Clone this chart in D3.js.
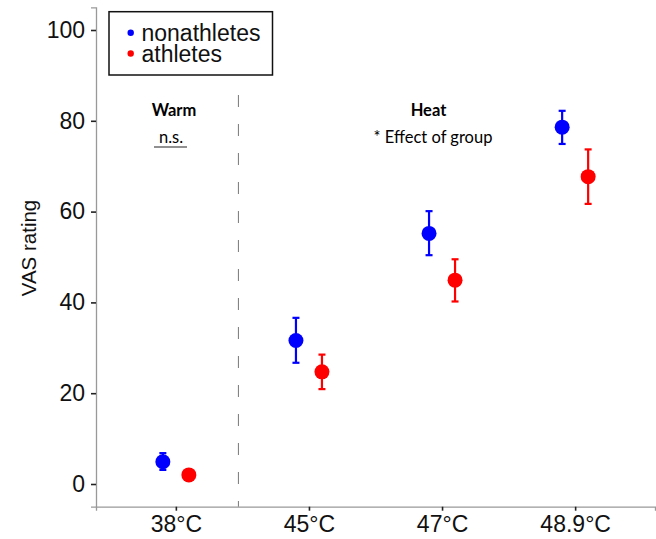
<!DOCTYPE html>
<html>
<head>
<meta charset="utf-8">
<script src="https://cdn.jsdelivr.net/npm/d3@7"></script>
<style>
  body { margin: 0; background: #fff; }
  svg { display: block; }
</style>
</head>
<body>
<svg id="chart" width="656" height="539"></svg>
<script>
// data
const temps = ['38°C', '45°C', '47°C', '48.9°C'];
const groups = ['nonathletes', 'athletes'];
const colors = ['#0000ff', '#ff0000'];
const nonMean = [4.9, 31.6, 55.2, 78.6];
const nonLow = [3.1, 26.7, 50.4, 74.9];
const nonHigh = [6.8, 36.6, 60.1, 82.2];
const athMean = [2.0, 24.7, 44.9, 67.7];
const athLow = [1.2, 20.9, 40.2, 61.7];
const athHigh = [2.8, 28.5, 49.5, 73.7];
const yTicks = [0, 20, 40, 60, 80, 100];

const svg = d3.select('#chart');

const x = d3.scalePoint()
  .domain(temps)
  .range([96, 655])
  .padding(0.6);
const step = x.step();
const dodge = 13;

const y = d3.scaleLinear()
  .domain([-5, 105])
  .range([506.7, 7.3]);

// axes
const yAxis = svg.append('g')
  .attr('transform', 'translate(96,0)')
  .call(d3.axisLeft(y).tickValues(yTicks).tickSize(5).tickPadding(6));
const xAxis = svg.append('g')
  .attr('transform', `translate(0,${y.range()[0]})`)
  .call(d3.axisBottom(x).tickSize(4).tickPadding(4));

[yAxis, xAxis].forEach((ax) => {
  ax.select('.domain').attr('stroke', '#999').attr('stroke-width', 1.3);
  ax.selectAll('.tick line').attr('stroke', '#222').attr('stroke-width', 1.6);
  ax.selectAll('.tick text')
    .attr('fill', '#111')
    .style('font-family', 'Liberation Sans, Arial, sans-serif')
    .style('font-size', '23px');
});
xAxis.selectAll('.tick text').attr('dy', '0.76em');

// y label
svg.append('text')
  .attr('transform', 'translate(36,248) rotate(-90)')
  .attr('text-anchor', 'middle')
  .style('font-family', 'Liberation Sans, Arial, sans-serif')
  .style('font-size', '20.5px')
  .attr('fill', '#111')
  .text('VAS rating');

// divider between warm and heat
const divX = x(temps[0]) + 0.47 * step;
svg.append('line')
  .attr('x1', divX).attr('x2', divX)
  .attr('y1', 95).attr('y2', y.range()[0])
  .attr('stroke', '#777')
  .attr('stroke-width', 1)
  .attr('stroke-dasharray', '12,17');

// annotations
const annFont = 'Lato, Noto Sans, sans-serif';
svg.append('text')
  .attr('x', 174).attr('y', 116)
  .attr('text-anchor', 'middle')
  .style('font-family', annFont).style('font-size', '16.5px').style('font-weight', 'bold')
  .text('Warm');
svg.append('text')
  .attr('x', 171).attr('y', 143)
  .attr('text-anchor', 'middle')
  .style('font-family', annFont).style('font-size', '16.5px')
  .text('n.s.');
svg.append('line')
  .attr('x1', 154).attr('x2', 187)
  .attr('y1', 147).attr('y2', 147)
  .attr('stroke', '#222').attr('stroke-width', 1.2);
svg.append('text')
  .attr('x', 428.5).attr('y', 116)
  .attr('text-anchor', 'middle')
  .style('font-family', annFont).style('font-size', '16.5px').style('font-weight', 'bold')
  .text('Heat');
svg.append('text')
  .attr('x', 433).attr('y', 143)
  .attr('text-anchor', 'middle')
  .style('font-family', annFont).style('font-size', '16.5px')
  .text('* Effect of group');

// points with error bars
const series = [
  { name: groups[0], color: colors[0], off: -dodge, mean: nonMean, low: nonLow, high: nonHigh },
  { name: groups[1], color: colors[1], off: dodge, mean: athMean, low: athLow, high: athHigh },
];

series.forEach((s) => {
  const rows = temps.map((t, i) => ({
    cx: x(t) + s.off, m: s.mean[i], lo: s.low[i], hi: s.high[i],
  }));
  const g = svg.append('g').attr('class', 'series');
  const eb = g.selectAll('.eb')
    .data(rows)
    .enter()
    .append('g')
    .attr('class', 'eb')
    .attr('stroke', s.color)
    .attr('stroke-width', 2.2);
  eb.append('line')
    .attr('x1', (d) => d.cx).attr('x2', (d) => d.cx)
    .attr('y1', (d) => y(d.lo)).attr('y2', (d) => y(d.hi));
  eb.append('line')
    .attr('x1', (d) => d.cx - 3.5).attr('x2', (d) => d.cx + 3.5)
    .attr('y1', (d) => y(d.lo)).attr('y2', (d) => y(d.lo));
  eb.append('line')
    .attr('x1', (d) => d.cx - 3.5).attr('x2', (d) => d.cx + 3.5)
    .attr('y1', (d) => y(d.hi)).attr('y2', (d) => y(d.hi));
  g.selectAll('circle')
    .data(rows)
    .enter()
    .append('circle')
    .attr('cx', (d) => d.cx)
    .attr('cy', (d) => y(d.m))
    .attr('r', 7.5)
    .attr('fill', s.color);
});

// legend
const legend = svg.append('g').attr('class', 'legend');
legend.append('rect')
  .attr('x', 109).attr('y', 11.7)
  .attr('width', 163.5).attr('height', 63.3)
  .attr('fill', '#fff')
  .attr('stroke', '#111')
  .attr('stroke-width', 1.5);
series.forEach((s, i) => {
  legend.append('circle')
    .attr('cx', 130.7).attr('cy', 32.7 + i * 20.8)
    .attr('r', 3.2)
    .attr('fill', s.color);
  legend.append('text')
    .attr('x', 141.5).attr('y', 40.7 + i * 21.6)
    .style('font-family', 'Liberation Sans, Arial, sans-serif')
    .style('font-size', '23px')
    .attr('fill', '#111')
    .text(s.name);
});
</script>
</body>
</html>
